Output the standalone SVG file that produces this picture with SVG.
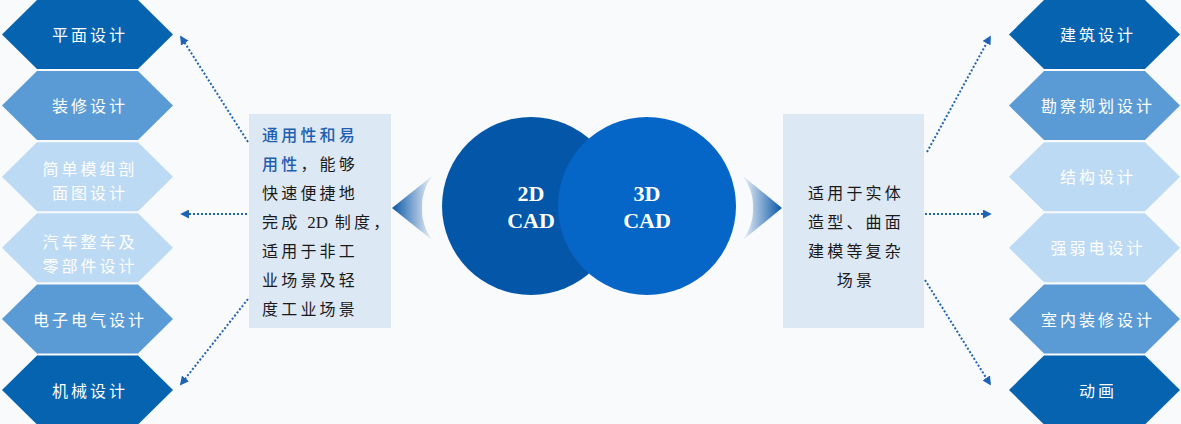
<svg xmlns="http://www.w3.org/2000/svg" width="1181" height="424" viewBox="0 0 1181 424">
<style>
.hx{font-family:"Noto Sans CJK SC","Noto Sans",sans-serif;font-size:16px;fill:#ffffff;text-anchor:middle;letter-spacing:3px}
.bt{font-family:"Noto Sans CJK SC","Noto Sans",sans-serif;font-size:16px;fill:#1a1a1a;letter-spacing:3.2px}
.blue{fill:#1F5FAF;font-weight:500}
.lat{font-family:"Liberation Serif",serif;font-size:17px;letter-spacing:0}
.cad{font-family:"Liberation Serif",serif;font-size:22px;font-weight:bold;fill:#ffffff;text-anchor:middle}
.dark{fill:#0563AF}
.mid{fill:#5B9BD5}
.light{fill:#BDDAF4}
.box{fill:#DDE8F5}
.conn{stroke:#1F63B5;stroke-width:2;stroke-dasharray:2 2;fill:none}
</style>
<defs>
<polygon id="hexL" points="2,0 37,-34.5 138,-34.5 173,0 138,34.5 37,34.5"/>
<polygon id="hexR" points="1009,0 1044,-34.5 1145,-34.5 1180,0 1145,34.5 1044,34.5"/>
<marker id="ah" viewBox="0 0 10 10" refX="8" refY="5" markerWidth="4.5" markerHeight="4.5" orient="auto" markerUnits="strokeWidth">
<path d="M0,0 L10,5 L0,10 Z" fill="#1F63B5"/>
</marker>
<linearGradient id="gl" x1="392" y1="0" x2="434" y2="0" gradientUnits="userSpaceOnUse">
<stop offset="0" stop-color="#0A57A8"/>
<stop offset="1" stop-color="#0A57A8" stop-opacity="0"/>
</linearGradient>
<linearGradient id="gr" x1="782" y1="0" x2="741" y2="0" gradientUnits="userSpaceOnUse">
<stop offset="0" stop-color="#0A57A8"/>
<stop offset="1" stop-color="#0A57A8" stop-opacity="0"/>
</linearGradient>
</defs>
<rect width="1181" height="424" fill="#F9FAFC"/>

<g id="connectors">
<line class="conn" x1="248" y1="142" x2="181" y2="37" marker-end="url(#ah)"/>
<line class="conn" x1="247" y1="214" x2="182" y2="214" marker-end="url(#ah)"/>
<line class="conn" x1="248" y1="299" x2="181" y2="384" marker-end="url(#ah)"/>
<line class="conn" x1="927" y1="152" x2="990" y2="37" marker-end="url(#ah)"/>
<line class="conn" x1="925" y1="214" x2="990" y2="214" marker-end="url(#ah)"/>
<line class="conn" x1="925" y1="280" x2="990" y2="384" marker-end="url(#ah)"/>
</g>

<g id="chevron-left"><path d="M392,208 L432,176 Q421,192 422,208 Q421,224 432,240 Z" fill="url(#gl)"/></g>
<g id="chevron-right"><path d="M782,208 L743,176 Q754,192 753,208 Q754,224 743,240 Z" fill="url(#gr)"/></g>

<g id="circle-2d">
<circle cx="531" cy="206" r="89" fill="#0456A8"/>
<text class="cad" x="531" y="201">2D</text>
<text class="cad" x="531" y="228">CAD</text>
</g>
<g id="circle-3d">
<circle cx="647" cy="206" r="89" fill="#0566C8"/>
<text class="cad" x="647" y="201">3D</text>
<text class="cad" x="647" y="228">CAD</text>
</g>

<g id="box-left">
<rect class="box" x="249" y="114" width="142" height="214"/>
<text class="bt" x="262" y="141"><tspan class="blue">通用性和易</tspan></text>
<text class="bt" x="262" y="170"><tspan class="blue">用性</tspan>，能够</text>
<text class="bt" x="262" y="199">快速便捷地</text>
<text class="bt" x="262" y="228">完成 <tspan class="lat">2D</tspan> 制度，</text>
<text class="bt" x="262" y="257">适用于非工</text>
<text class="bt" x="262" y="286">业场景及轻</text>
<text class="bt" x="262" y="315">度工业场景</text>
</g>

<g id="box-right">
<rect class="box" x="783" y="114" width="141" height="214"/>
<text class="bt" x="856" y="199" text-anchor="middle">适用于实体</text>
<text class="bt" x="856" y="228" text-anchor="middle">造型、曲面</text>
<text class="bt" x="856" y="257" text-anchor="middle">建模等复杂</text>
<text class="bt" x="856" y="286" text-anchor="middle">场景</text>
</g>

<g id="l1"><use href="#hexL" class="dark" y="34.5"/><text class="hx" x="90" y="41">平面设计</text></g>
<g id="l2"><use href="#hexL" class="mid" y="105.6"/><text class="hx" x="90" y="112">装修设计</text></g>
<g id="l3"><use href="#hexL" class="light" y="176.7"/><text class="hx" x="90" y="174.5">简单模组剖</text><text class="hx" x="90" y="198.5">面图设计</text></g>
<g id="l4"><use href="#hexL" class="light" y="247.8"/><text class="hx" x="90" y="247.5">汽车整车及</text><text class="hx" x="90" y="271.5">零部件设计</text></g>
<g id="l5"><use href="#hexL" class="mid" y="318.9"/><text class="hx" x="90" y="325.5">电子电气设计</text></g>
<g id="l6"><use href="#hexL" class="dark" y="390"/><text class="hx" x="90" y="396.5">机械设计</text></g>

<g id="r1"><use href="#hexR" class="dark" y="34.5"/><text class="hx" x="1098" y="41">建筑设计</text></g>
<g id="r2"><use href="#hexR" class="mid" y="105.6"/><text class="hx" x="1098" y="112">勘察规划设计</text></g>
<g id="r3"><use href="#hexR" class="light" y="176.7"/><text class="hx" x="1098" y="183">结构设计</text></g>
<g id="r4"><use href="#hexR" class="light" y="247.8"/><text class="hx" x="1098" y="254">强弱电设计</text></g>
<g id="r5"><use href="#hexR" class="mid" y="318.9"/><text class="hx" x="1098" y="325.5">室内装修设计</text></g>
<g id="r6"><use href="#hexR" class="dark" y="390"/><text class="hx" x="1098" y="396.5">动画</text></g>
</svg>
